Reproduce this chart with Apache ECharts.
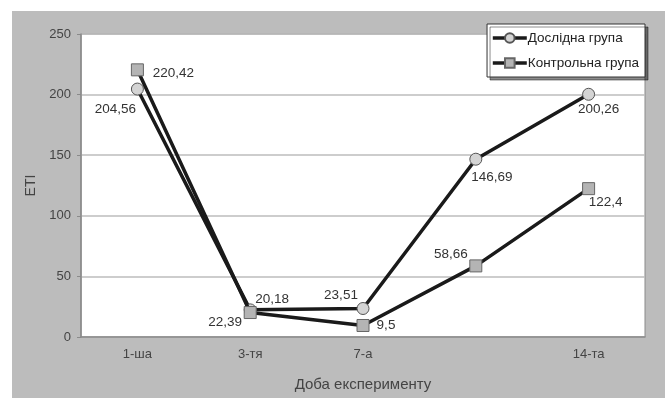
<!DOCTYPE html>
<html><head><meta charset="utf-8">
<script src="https://cdn.jsdelivr.net/npm/echarts@6/dist/echarts.min.js"></script>
<style>html,body{margin:0;padding:0;background:#fff}#c{width:665px;height:403px}</style>
</head><body><div id="c"></div>
<script>
const categories = ['1-ша', '3-тя', '7-а', '', '14-та'];
const experimental = [204.56, 22.39, 23.51, 146.69, 200.26];
const control = [220.42, 20.18, 9.5, 58.66, 122.4];
const seriesNames = ['Дослідна група', 'Контрольна група'];
const yTicks = { min: 0, max: 250, interval: 50 };

// label offsets (layout only)
const expOffsets = [[-22, 20], [-25, 12], [-22, -13], [16, 18], [10, 15]];
const ctrlOffsets = [[36, 3], [22, -13], [23, 0], [-25, -12], [17, 14]];

function fmt(v) { return String(v).replace('.', ','); }
function build(values, offsets) {
  return values.map((v, i) => ({
    value: v,
    label: { show: true, position: 'inside', offset: offsets[i], align: 'center', verticalAlign: 'middle',
      formatter: fmt(v), color: '#333', fontSize: 13.5, fontFamily: 'Liberation Sans' }
  }));
}

const chart = echarts.init(document.getElementById('c'));
chart.setOption({
  animation: false,
  textStyle: { fontFamily: 'Liberation Sans' },
  graphic: [{ type: 'rect', z: -10, silent: true, shape: { x: 12, y: 11, width: 653, height: 387 }, style: { fill: '#bcbcbc' } }],
  grid: { left: 81, right: 20, top: 34, bottom: 66, show: true, backgroundColor: '#fff', borderColor: '#8a8a8a', borderWidth: 1 },
  legend: {
    orient: 'vertical', right: 20, top: 24,
    backgroundColor: '#fff', borderColor: '#333', borderWidth: 1,
    padding: [7, 6, 7, 4], itemGap: 11, itemWidth: 34, itemHeight: 12,
    lineStyle: { width: 3.5, color: '#1a1a1a' },
    shadowColor: 'rgba(0,0,0,0.45)', shadowOffsetX: 3, shadowOffsetY: 3, shadowBlur: 0,
    textStyle: { fontSize: 13.5, color: '#222', padding: [0, 0, 0, -4] },
    data: seriesNames
  },
  xAxis: {
    type: 'category', data: categories, boundaryGap: true,
    axisLine: { lineStyle: { color: '#8a8a8a', width: 1.5 } },
    axisTick: { show: false },
    axisLabel: { color: '#444', fontSize: 13, margin: 11 },
    name: 'Доба експерименту', nameLocation: 'middle', nameGap: 40,
    nameTextStyle: { color: '#444', fontSize: 15 }
  },
  yAxis: {
    type: 'value', min: yTicks.min, max: yTicks.max, interval: yTicks.interval,
    axisLine: { show: true, lineStyle: { color: '#8a8a8a', width: 1.5 } },
    axisTick: { show: true, length: 4, lineStyle: { color: '#8a8a8a' } },
    axisLabel: { color: '#444', fontSize: 13, margin: 10 },
    splitLine: { lineStyle: { color: '#bdbdbd', width: 1.5 } },
    name: 'ETI', nameLocation: 'middle', nameGap: 40, nameRotate: 90,
    nameTextStyle: { color: '#444', fontSize: 14 }
  },
  series: [
    { name: seriesNames[0], type: 'line', data: build(experimental, expOffsets),
      symbol: 'circle', symbolSize: 12, z: 2,
      lineStyle: { color: '#1a1a1a', width: 3.5 },
      itemStyle: { color: '#d4d4d4', borderColor: '#555', borderWidth: 1 } },
    { name: seriesNames[1], type: 'line', data: build(control, ctrlOffsets),
      symbol: 'rect', symbolSize: 12, z: 3,
      lineStyle: { color: '#1a1a1a', width: 3.5 },
      itemStyle: { color: '#b4b4b4', borderColor: '#666', borderWidth: 1 } }
  ]
});
</script></body></html>
